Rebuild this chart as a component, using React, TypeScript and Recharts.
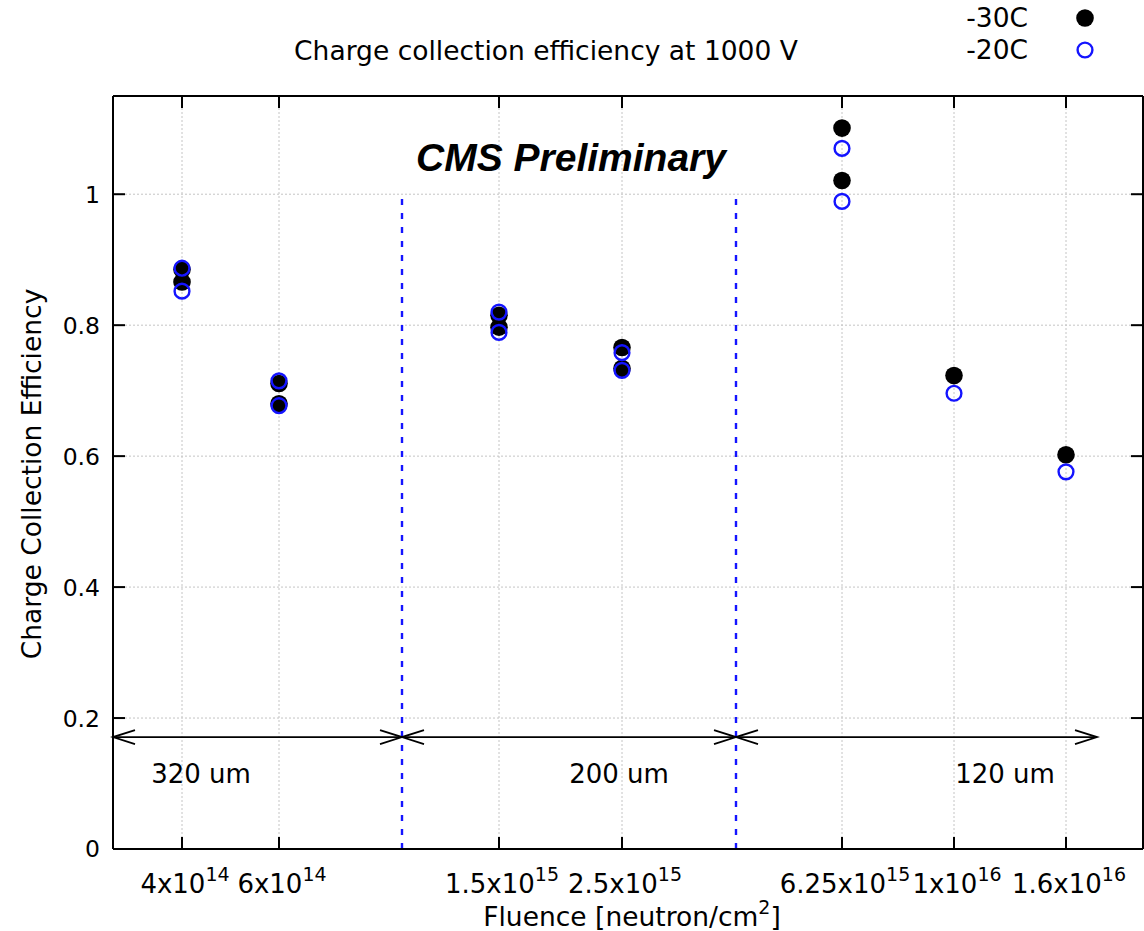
import React from "react";
import {
  ComposedChart,
  Scatter,
  XAxis,
  YAxis,
  CartesianGrid,
  ReferenceLine,
  Customized,
} from "recharts";

// x positions of the fluence columns (arbitrary plot units, plot spans 0..103)
const fluenceX = [6.9, 16.6, 38.6, 50.9, 72.9, 84.1, 95.3];
const fluenceMant = ["4x10", "6x10", "1.5x10", "2.5x10", "6.25x10", "1x10", "1.6x10"];
const fluenceExp = ["14", "14", "15", "15", "15", "16", "16"];

// measurements per fluence column
const cce30 = [[0.885, 0.866], [0.711, 0.68], [0.815, 0.797], [0.766, 0.734], [1.101, 1.021], [0.723], [0.602]];
const cce20 = [[0.887, 0.852], [0.715, 0.677], [0.82, 0.789], [0.758, 0.731], [1.07, 0.989], [0.696], [0.576]];

const yTicks = [0, 0.2, 0.4, 0.6, 0.8, 1];

// sensor thickness regions
const zoneEdges = [0, 28.9, 62.3, 98.4];
const zoneLabels = ["320 um", "200 um", "120 um"];
const zoneLabelX = [8.8, 50.6, 89.2];
const arrowY = 0.171;
const zoneLabelY = 0.115;

const FONT = "'DejaVu Sans', sans-serif";
const BLUE = "#1414ff";

const toPoints = (vals: number[][]) =>
  vals.flatMap((col, i) => col.map((y) => ({ x: fluenceX[i], y })));

const data30 = toPoints(cce30);
const data20 = toPoints(cce20);
const zoneData = zoneLabels.map((label, i) => ({ x: zoneLabelX[i], y: zoneLabelY, label }));

function FilledDot(props: any) {
  const { cx, cy } = props;
  if (cx == null || cy == null) return null;
  return <circle cx={cx} cy={cy} r={8.8} fill="#000" />;
}

function OpenDot(props: any) {
  const { cx, cy } = props;
  if (cx == null || cy == null) return null;
  return <circle cx={cx} cy={cy} r={7.4} fill="none" stroke={BLUE} strokeWidth={2.4} />;
}

function ZoneText(props: any) {
  const { cx, cy, payload } = props;
  if (cx == null || cy == null) return null;
  return (
    <text x={cx} y={cy} dy="0.35em" textAnchor="middle" fontFamily={FONT} fontSize={26} fill="#000">
      {payload.label}
    </text>
  );
}

function ArrowShape(props: any) {
  const { x1, y1, x2, y2 } = props;
  if (x1 == null) return null;
  const len = 22;
  const h = 7;
  return (
    <g stroke="#000" strokeWidth={1.8} fill="none">
      <line x1={x1} y1={y1} x2={x2} y2={y2} />
      <polyline points={`${x1 + len},${y1 - h} ${x1},${y1} ${x1 + len},${y1 + h}`} />
      <polyline points={`${x2 - len},${y2 - h} ${x2},${y2} ${x2 - len},${y2 + h}`} />
    </g>
  );
}

function BottomTick(props: any) {
  const { x, y, index } = props;
  return (
    <g>
      <line x1={x} y1={y - 12} x2={x} y2={y} stroke="#000" strokeWidth={2} />
      <text x={x + 3} y={y + 44} textAnchor="middle" fontFamily={FONT} fontSize={26} fill="#000">
        <tspan>{fluenceMant[index]}</tspan>
        <tspan dy={-12} fontSize={19}>{fluenceExp[index]}</tspan>
      </text>
    </g>
  );
}

function TopTick(props: any) {
  const { x, y } = props;
  return <line x1={x} y1={y} x2={x} y2={y + 12} stroke="#000" strokeWidth={2} />;
}

function LeftTick(props: any) {
  const { x, y, payload } = props;
  return (
    <g>
      <line x1={x} y1={y} x2={x + 12} y2={y} stroke="#000" strokeWidth={2} />
      <text x={x - 13} y={y} dy="0.36em" textAnchor="end" fontFamily={FONT} fontSize={23.5} fill="#000">
        {String(payload.value)}
      </text>
    </g>
  );
}

function RightTick(props: any) {
  const { x, y } = props;
  return <line x1={x - 12} y1={y} x2={x} y2={y} stroke="#000" strokeWidth={2} />;
}

function Overlay() {
  return (
    <g fontFamily={FONT} fill="#000">
      <text x={546} y={60} textAnchor="middle" fontSize={26.5}>
        Charge collection efficiency at 1000 V
      </text>
      <text x={1028} y={27} textAnchor="end" fontSize={26.5}>-30C</text>
      <circle cx={1085} cy={18} r={8.8} fill="#000" />
      <text x={1028} y={59} textAnchor="end" fontSize={26.5}>-20C</text>
      <circle cx={1085} cy={50} r={7.4} fill="none" stroke={BLUE} strokeWidth={2.4} />
      <text
        x={571}
        y={171}
        textAnchor="middle"
        fontFamily="'Liberation Sans', Arial, sans-serif"
        fontWeight="bold"
        fontStyle="italic"
        fontSize={39}
      >
        CMS Preliminary
      </text>
      <text
        x={0}
        y={0}
        transform="translate(41,474) rotate(-90)"
        textAnchor="middle"
        fontSize={26.5}
      >
        Charge Collection Efficiency
      </text>
      <text x={632} y={926} textAnchor="middle" fontSize={26.5}>
        <tspan>Fluence [neutron/cm</tspan>
        <tspan dy={-12} fontSize={19}>2</tspan>
        <tspan dy={12}>]</tspan>
      </text>
    </g>
  );
}

export default function App() {
  return (
    <div style={{ position: "absolute", left: 0, top: 0, width: 1144, height: 931, background: "#fff" }}>
      <ComposedChart
        width={1144}
        height={931}
        margin={{ top: 95, right: 0, bottom: 42, left: 53 }}
      >
        <CartesianGrid stroke="#c4c4c4" strokeDasharray="2 2" strokeWidth={1} />
        <XAxis
          type="number"
          dataKey="x"
          domain={[0, 103]}
          ticks={fluenceX}
          interval={0}
          tick={<BottomTick />}
          tickLine={false}
          tickSize={0}
          tickMargin={0}
          height={40}
          axisLine={{ stroke: "#000", strokeWidth: 2 }}
          allowDataOverflow
        />
        <XAxis
          xAxisId="top"
          orientation="top"
          type="number"
          dataKey="x"
          domain={[0, 103]}
          ticks={fluenceX}
          interval={0}
          tick={<TopTick />}
          tickLine={false}
          tickSize={0}
          tickMargin={0}
          height={1}
          axisLine={{ stroke: "#000", strokeWidth: 2 }}
          allowDataOverflow
        />
        <YAxis
          type="number"
          dataKey="y"
          domain={[0, 1.15]}
          ticks={yTicks}
          interval={0}
          tick={<LeftTick />}
          tickLine={false}
          tickSize={0}
          tickMargin={0}
          width={60}
          axisLine={{ stroke: "#000", strokeWidth: 2 }}
          allowDataOverflow
        />
        <YAxis
          yAxisId="right"
          orientation="right"
          type="number"
          dataKey="y"
          domain={[0, 1.15]}
          ticks={yTicks}
          interval={0}
          tick={<RightTick />}
          tickLine={false}
          tickSize={0}
          tickMargin={0}
          width={1}
          axisLine={{ stroke: "#000", strokeWidth: 2 }}
          allowDataOverflow
        />
        {[zoneEdges[1], zoneEdges[2]].map((x) => (
          <ReferenceLine
            key={x}
            segment={[{ x, y: 0 }, { x, y: 1 }]}
            stroke={BLUE}
            strokeWidth={2.4}
            strokeDasharray="6 8"
          />
        ))}
        {zoneLabels.map((_, i) => (
          <ReferenceLine
            key={"arrow" + i}
            segment={[{ x: zoneEdges[i], y: arrowY }, { x: zoneEdges[i + 1], y: arrowY }]}
            shape={<ArrowShape />}
          />
        ))}
        <Scatter data={zoneData} dataKey="y" shape={<ZoneText />} isAnimationActive={false} />
        <Scatter name="-30C" data={data30} dataKey="y" shape={<FilledDot />} isAnimationActive={false} />
        <Scatter name="-20C" data={data20} dataKey="y" shape={<OpenDot />} isAnimationActive={false} />
        <Customized component={<Overlay />} />
      </ComposedChart>
    </div>
  );
}
